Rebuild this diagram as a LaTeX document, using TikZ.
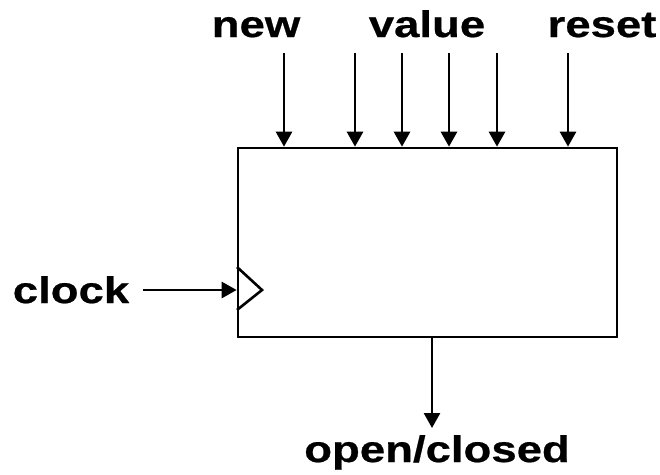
\documentclass[tikz,border=0pt]{standalone}
\usepackage{fontspec}
\setmainfont{Liberation Sans}[FakeStretch=1.23,FakeBold=0.6]
\usetikzlibrary{arrows.meta}
\tikzset{
  lbl/.style={font=\fontsize{37pt}{40pt}\selectfont\bfseries, inner sep=0pt, anchor=base},
  arr/.style={line width=2.6pt, -{Triangle[width=16pt,length=15pt]}},
  blk/.style={draw, line width=2.6pt, minimum width=379pt, minimum height=189pt, inner sep=0pt}
}
\begin{document}
\begin{tikzpicture}[x=1pt,y=-1pt]
\useasboundingbox (0,0) rectangle (660,474);
\node[blk] (box) at (427.5,242.5) {};
% labels
\node[lbl] (new) at (256,37) {new};
\node[lbl] (value) at (427,37) {value};
\node[lbl] (reset) at (602,37) {reset};
\node[lbl] (clock) at (71,303) {clock};
\node[lbl] (oc) at (437,462) {open/closed};
% top arrow starts
\coordinate (t1) at (284,53);
\coordinate (t2) at (355,53);
\coordinate (t3) at (402,53);
\coordinate (t4) at (449,53);
\coordinate (t5) at (497,53);
\coordinate (t6) at (568,53);
\foreach \t in {t1,t2,t3,t4,t5,t6}
  \draw[arr] (\t) -- (\t |- box.north);
% clock
\coordinate (ck) at (143,290);
\draw[arr] (ck) -- (ck -| box.west);
\draw[line width=2.6pt] (237,267) -- (262,290) -- (237,310);
% output
\coordinate (out) at (432,428);
\draw[arr] (box.south -| out) -- (out);
\end{tikzpicture}
\end{document}
